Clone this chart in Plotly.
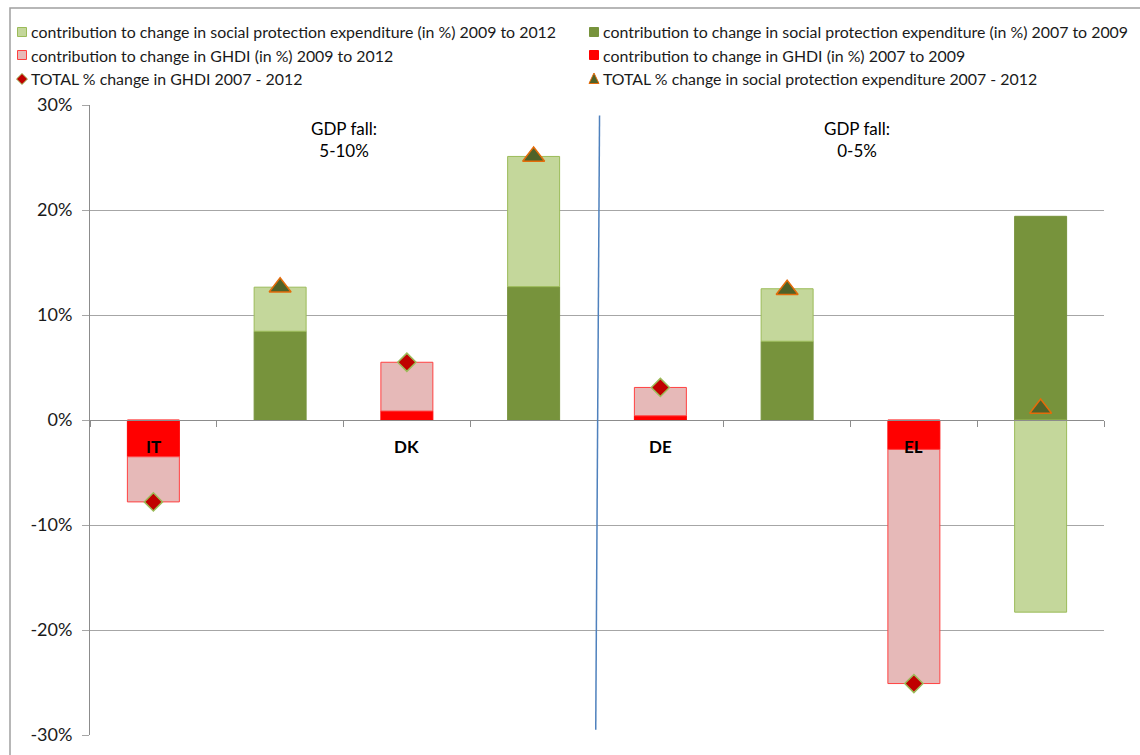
import plotly.graph_objects as go

# ---- data ----
countries = ["IT", "DK", "DE", "EL"]
ghdi_slots = ["IT GHDI", "DK GHDI", "DE GHDI", "EL GHDI"]
sp_slots = ["IT SPE", "DK SPE", "DE SPE", "EL SPE"]
slot_order = ["IT GHDI", "IT SPE", "DK GHDI", "DK SPE", "DE GHDI", "DE SPE", "EL GHDI", "EL SPE"]

ghdi_0709 = [-3.5, 0.85, 0.4, -2.8]
ghdi_0912 = [-4.3, 4.65, 2.7, -22.3]
sp_0709 = [8.45, 12.7, 7.5, 19.4]
sp_0912 = [4.2, 12.4, 5.0, -18.3]
ghdi_total = [-7.8, 5.5, 3.1, -25.1]
sp_total = [12.65, 25.1, 12.4, 1.1]

y_ticks = [-30, -20, -10, 0, 10, 20, 30]
y_tick_text = ["-30%", "-20%", "-10%", "0%", "10%", "20%", "30%"]

name_sp_0912 = "contribution to change in social protection expenditure (in %) 2009 to 2012"
name_sp_0709 = "contribution to change in social protection expenditure (in %) 2007 to 2009"
name_gh_0912 = "contribution to change in GHDI (in %) 2009 to 2012"
name_gh_0709 = "contribution to change in GHDI (in %) 2007 to 2009"
name_gh_tot = "TOTAL % change in GHDI 2007 - 2012"
name_sp_tot = "TOTAL % change in social protection expenditure 2007 - 2012"

FONT = "Lato"
BW = 0.41
C_SP_0709, L_SP_0709 = "#77933C", "#77933C"
C_SP_0912, L_SP_0912 = "#C4D79B", "#9BBB59"
C_GH_0709, L_GH_0709 = "#FF0000", "#FF0000"
C_GH_0912, L_GH_0912 = "#E6B9B8", "#FF4040"
C_DIA, L_DIA = "#C00000", "#9BBB59"
C_TRI, L_TRI = "#4F6228", "#E46C0A"

fig = go.Figure()
fig.add_trace(go.Bar(x=sp_slots, y=sp_0709, width=BW, name=name_sp_0709,
                     marker=dict(color=C_SP_0709, line=dict(color=L_SP_0709, width=1))))
fig.add_trace(go.Bar(x=sp_slots, y=sp_0912, width=BW, name=name_sp_0912,
                     marker=dict(color=C_SP_0912, line=dict(color=L_SP_0912, width=1))))
fig.add_trace(go.Bar(x=ghdi_slots, y=ghdi_0709, width=BW, name=name_gh_0709,
                     marker=dict(color=C_GH_0709, line=dict(color=L_GH_0709, width=1))))
fig.add_trace(go.Bar(x=ghdi_slots, y=ghdi_0912, width=BW, name=name_gh_0912,
                     marker=dict(color=C_GH_0912, line=dict(color=L_GH_0912, width=1))))
fig.add_trace(go.Scatter(x=ghdi_slots, y=ghdi_total, mode="markers", name=name_gh_tot,
                         marker=dict(symbol="diamond", size=14, color=C_DIA,
                                     line=dict(color=L_DIA, width=1.5))))
fig.add_trace(go.Scatter(x=sp_slots, y=sp_total, mode="markers", name=name_sp_tot,
                         marker=dict(symbol="triangle-up", size=19, color=C_TRI,
                                     line=dict(color=L_TRI, width=1.5))))

# ---- manual legend (two columns, three rows) ----
L, T, W, H = 90, 105, 1014, 630


def px(x):
    return (x - L) / W


def py(y):
    return (T + H - y) / H


legend_items = [
    (name_sp_0912, "square", C_SP_0912, L_SP_0912, 0, 0),
    (name_sp_0709, "square", C_SP_0709, L_SP_0709, 1, 0),
    (name_gh_0912, "square", C_GH_0912, L_GH_0912, 0, 1),
    (name_gh_0709, "square", C_GH_0709, L_GH_0709, 1, 1),
    (name_gh_tot, "diamond", C_DIA, L_DIA, 0, 2),
    (name_sp_tot, "triangle", C_TRI, L_TRI, 1, 2),
]
col_x = [22, 594]
row_y = [32, 55, 79]
for text, sym, fc, lc, col, row in legend_items:
    cx, cy = col_x[col], row_y[row]
    if sym == "square":
        fig.add_shape(type="rect", xref="paper", yref="paper",
                      x0=px(cx - 4.5), x1=px(cx + 4.5), y0=py(cy + 4.5), y1=py(cy - 4.5),
                      fillcolor=fc, line=dict(color=lc, width=1))
    elif sym == "diamond":
        pts = [(cx, cy - 5.5), (cx + 5.5, cy), (cx, cy + 5.5), (cx - 5.5, cy)]
        path = "M " + " L ".join("%f,%f" % (px(a), py(b)) for a, b in pts) + " Z"
        fig.add_shape(type="path", xref="paper", yref="paper", path=path,
                      fillcolor=fc, line=dict(color=lc, width=1))
    else:
        pts = [(cx, cy - 6), (cx + 5, cy + 4.5), (cx - 5, cy + 4.5)]
        path = "M " + " L ".join("%f,%f" % (px(a), py(b)) for a, b in pts) + " Z"
        fig.add_shape(type="path", xref="paper", yref="paper", path=path,
                      fillcolor=fc, line=dict(color=lc, width=1))
    fig.add_annotation(xref="paper", yref="paper", x=px(cx + 7), y=py(cy), text=text,
                       xanchor="left", yanchor="middle", showarrow=False,
                       font=dict(family=FONT, size=15.9, color="#1a1a1a"))

# country labels at zero line
for c, s in zip(countries, ghdi_slots):
    fig.add_annotation(x=s, y=-2.5, text="<b>%s</b>" % c, showarrow=False,
                       font=dict(family=FONT, size=17, color="#000000"))

fig.add_annotation(x=1.5, y=26.7, text="GDP fall:<br>5-10%", showarrow=False,
                   font=dict(family=FONT, size=17, color="#000000"))
fig.add_annotation(x=5.55, y=26.7, text="GDP fall:<br>0-5%", showarrow=False,
                   font=dict(family=FONT, size=17, color="#000000"))

# divider line
fig.add_shape(type="line", x0=3.52, y0=29.0, x1=3.49, y1=-29.5, xref="x", yref="y",
              line=dict(color="#4F81BD", width=1.5))
# outer chart border
fig.add_shape(type="rect", xref="paper", yref="paper",
              x0=px(10), x1=px(1150), y0=py(765), y1=py(8),
              line=dict(color="#A0A0A0", width=1.5), fillcolor="rgba(0,0,0,0)", layer="below")

fig.update_layout(
    width=1140, height=755,
    barmode="relative",
    plot_bgcolor="white", paper_bgcolor="white",
    margin=dict(l=L, r=1140 - L - W, t=T, b=755 - T - H),
    font=dict(family=FONT, size=15, color="#1a1a1a"),
    showlegend=False,
    xaxis=dict(type="category", categoryorder="array", categoryarray=slot_order,
               range=[-0.5, 7.5], showticklabels=False, showgrid=False,
               tickson="boundaries", ticks="outside", ticklen=6, tickcolor="#8c8c8c",
               showline=True, linecolor="#8c8c8c", linewidth=1,
               anchor="free", position=0.5, zeroline=False),
    yaxis=dict(range=[-30, 30], tickvals=y_ticks, ticktext=y_tick_text,
               showgrid=True, gridcolor="#A6A6A6", gridwidth=1,
               showline=True, linecolor="#8c8c8c", linewidth=1,
               ticks="outside", ticklen=7, tickcolor="#A6A6A6", ticklabelstandoff=6,
               tickfont=dict(family=FONT, size=18, color="#1a1a1a"),
               zeroline=False, automargin=False),
)

fig.write_html("out.html")
